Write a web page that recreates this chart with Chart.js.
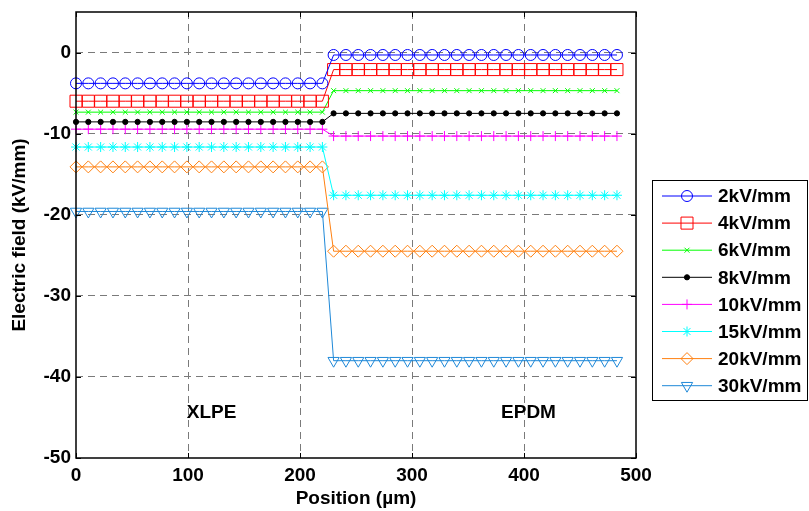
<!DOCTYPE html>
<html><head><meta charset="utf-8">
<script src="https://cdn.jsdelivr.net/npm/chart.js@4"></script>
<style>html,body{margin:0;padding:0;background:#fff}#wrap{width:809px;height:511px}</style>
</head><body><div id="wrap"><canvas id="c" width="809" height="511"></canvas></div>
<script>
// ---- data ----
const positions = [
  0,11,22,33,44,55,66, 77,88,99,110,121,132,143, 154,165,176,187,198,209,220,
  230,241,252,263,274,285, 296,307,318,329,340,351, 362,373,384,395,406,417, 428,439,450,461,472,483
];
const seriesLabels = ['2kV/mm','4kV/mm','6kV/mm','8kV/mm','10kV/mm','15kV/mm','20kV/mm','30kV/mm'];
const field2kV = [
  -3.8,-3.8,-3.8,-3.8,-3.8,-3.8,-3.8, -3.8,-3.8,-3.8,-3.8,-3.8,-3.8,-3.8, -3.8,-3.8,-3.8,-3.8,-3.8,-3.8,-3.8,
  -0.3,-0.3,-0.3,-0.3,-0.3,-0.3, -0.3,-0.3,-0.3,-0.3,-0.3,-0.3, -0.3,-0.3,-0.3,-0.3,-0.3,-0.3, -0.3,-0.3,-0.3,-0.3,-0.3,-0.3
];
const field4kV = [
  -6.0,-6.0,-6.0,-6.0,-6.0,-6.0,-6.0, -6.0,-6.0,-6.0,-6.0,-6.0,-6.0,-6.0, -6.0,-6.0,-6.0,-6.0,-6.0,-6.0,-6.0,
  -2.1,-2.1,-2.1,-2.1,-2.1,-2.1, -2.1,-2.1,-2.1,-2.1,-2.1,-2.1, -2.1,-2.1,-2.1,-2.1,-2.1,-2.1, -2.1,-2.1,-2.1,-2.1,-2.1,-2.1
];
const field6kV = [
  -7.35,-7.35,-7.35,-7.35,-7.35,-7.35,-7.35, -7.35,-7.35,-7.35,-7.35,-7.35,-7.35,-7.35, -7.35,-7.35,-7.35,-7.35,-7.35,-7.35,-7.35,
  -4.7,-4.7,-4.7,-4.7,-4.7,-4.7, -4.7,-4.7,-4.7,-4.7,-4.7,-4.7, -4.7,-4.7,-4.7,-4.7,-4.7,-4.7, -4.7,-4.7,-4.7,-4.7,-4.7,-4.7
];
const field8kV = [
  -8.55,-8.55,-8.55,-8.55,-8.55,-8.55,-8.55, -8.55,-8.55,-8.55,-8.55,-8.55,-8.55,-8.55, -8.55,-8.55,-8.55,-8.55,-8.55,-8.55,-8.55,
  -7.5,-7.5,-7.5,-7.5,-7.5,-7.5, -7.5,-7.5,-7.5,-7.5,-7.5,-7.5, -7.5,-7.5,-7.5,-7.5,-7.5,-7.5, -7.5,-7.5,-7.5,-7.5,-7.5,-7.5
];
const field10kV = [
  -9.45,-9.45,-9.45,-9.45,-9.45,-9.45,-9.45, -9.45,-9.45,-9.45,-9.45,-9.45,-9.45,-9.45, -9.45,-9.45,-9.45,-9.45,-9.45,-9.45,-9.45,
  -10.3,-10.3,-10.3,-10.3,-10.3,-10.3, -10.3,-10.3,-10.3,-10.3,-10.3,-10.3, -10.3,-10.3,-10.3,-10.3,-10.3,-10.3, -10.3,-10.3,-10.3,-10.3,-10.3,-10.3
];
const field15kV = [
  -11.65,-11.65,-11.65,-11.65,-11.65,-11.65,-11.65, -11.65,-11.65,-11.65,-11.65,-11.65,-11.65,-11.65, -11.65,-11.65,-11.65,-11.65,-11.65,-11.65,-11.65,
  -17.6,-17.6,-17.6,-17.6,-17.6,-17.6, -17.6,-17.6,-17.6,-17.6,-17.6,-17.6, -17.6,-17.6,-17.6,-17.6,-17.6,-17.6, -17.6,-17.6,-17.6,-17.6,-17.6,-17.6
];
const field20kV = [
  -14.1,-14.1,-14.1,-14.1,-14.1,-14.1,-14.1, -14.1,-14.1,-14.1,-14.1,-14.1,-14.1,-14.1, -14.1,-14.1,-14.1,-14.1,-14.1,-14.1,-14.1,
  -24.5,-24.5,-24.5,-24.5,-24.5,-24.5, -24.5,-24.5,-24.5,-24.5,-24.5,-24.5, -24.5,-24.5,-24.5,-24.5,-24.5,-24.5, -24.5,-24.5,-24.5,-24.5,-24.5,-24.5
];
const field30kV = [
  -19.6,-19.6,-19.6,-19.6,-19.6,-19.6,-19.6, -19.6,-19.6,-19.6,-19.6,-19.6,-19.6,-19.6, -19.6,-19.6,-19.6,-19.6,-19.6,-19.6,-19.6,
  -38.0,-38.0,-38.0,-38.0,-38.0,-38.0, -38.0,-38.0,-38.0,-38.0,-38.0,-38.0, -38.0,-38.0,-38.0,-38.0,-38.0,-38.0, -38.0,-38.0,-38.0,-38.0,-38.0,-38.0
];
const xTicks = [0,100,200,300,400,500];
const yTicks = [-50,-40,-30,-20,-10,0];
const layerLabels = ['XLPE','EPDM'];
const layerLabelX = [121, 404];
const layerLabelY = [-44.4, -44.4];

// ---- styles ----
const allFields = [field2kV, field4kV, field6kV, field8kV, field10kV, field15kV, field20kV, field30kV];
const colors = ['#0000ff','#ff0000','#00ff00','#000000','#ff00ff','#00ffff','#ff8010','#1e88d8'];
const pStyles = ['circle','rect','crossRot','circle','cross','star','rectRot','triangle'];
const pRadius = [5.5, 8.5, 3.5, 2.6, 5, 5, 6, 6.5];
const pRot = [0,0,0,0,0,0,0,180];
const pFill = ['rgba(0,0,0,0)','rgba(0,0,0,0)','rgba(0,0,0,0)','#000000','rgba(0,0,0,0)','rgba(0,0,0,0)','rgba(0,0,0,0)','rgba(0,0,0,0)'];
const FONT = "'Liberation Sans', Arial, Helvetica, sans-serif";

Chart.defaults.font.family = FONT;
Chart.defaults.color = '#000';

const datasets = allFields.map((arr, k) => ({
  label: seriesLabels[k],
  data: positions.map((x, i) => ({x: x, y: arr[i]})),
  borderColor: colors[k],
  backgroundColor: colors[k],
  borderWidth: 1,
  pointStyle: pStyles[k],
  pointRadius: pRadius[k],
  pointRotation: pRot[k],
  pointBorderColor: colors[k],
  pointBackgroundColor: pFill[k],
  pointBorderWidth: 1,
  pointHoverRadius: pRadius[k],
  showLine: true,
  fill: false,
  tension: 0,
  clip: false
}));

const framePlugin = {
  id: 'frame',
  afterDatasetsDraw(chart) {
    const ctx = chart.ctx, a = chart.chartArea;
    const xs = chart.scales.x, ys = chart.scales.y;
    ctx.save();
    ctx.strokeStyle = '#000'; ctx.lineWidth = 1;
    ctx.beginPath();
    xTicks.forEach(v => {
      const px = Math.round(xs.getPixelForValue(v)) + 0.5;
      ctx.moveTo(px, a.bottom); ctx.lineTo(px, a.bottom - 5);
      ctx.moveTo(px, a.top); ctx.lineTo(px, a.top + 5);
    });
    yTicks.forEach(v => {
      const py = Math.round(ys.getPixelForValue(v)) + 0.5;
      ctx.moveTo(a.left, py); ctx.lineTo(a.left + 5, py);
      ctx.moveTo(a.right, py); ctx.lineTo(a.right - 5, py);
    });
    ctx.stroke();
    ctx.lineWidth = 1.5;
    ctx.strokeRect(a.left, a.top, a.right - a.left, a.bottom - a.top);
    ctx.fillStyle = '#000';
    ctx.font = 'bold 19px ' + FONT;
    ctx.textAlign = 'center'; ctx.textBaseline = 'middle';
    layerLabels.forEach((t, i) => {
      ctx.fillText(t, xs.getPixelForValue(layerLabelX[i]), ys.getPixelForValue(layerLabelY[i]));
    });
    ctx.restore();
  },
  afterDraw(chart) {
    const ctx = chart.ctx;
    const bx = 652.5, by = 180.5, bw = 155, bh = 220;
    ctx.save();
    ctx.fillStyle = '#fff';
    ctx.fillRect(bx, by, bw, bh);
    ctx.strokeStyle = '#000'; ctx.lineWidth = 1;
    ctx.strokeRect(bx, by, bw, bh);
    chart.data.datasets.forEach((ds, i) => {
      const y = 196 + i * 27.1;
      ctx.strokeStyle = ds.borderColor; ctx.lineWidth = 1;
      ctx.beginPath(); ctx.moveTo(662, y); ctx.lineTo(712, y); ctx.stroke();
      ctx.fillStyle = ds.pointBackgroundColor;
      ctx.strokeStyle = ds.pointBorderColor;
      Chart.helpers.drawPoint(ctx, {pointStyle: ds.pointStyle, radius: ds.pointRadius, rotation: ds.pointRotation, borderWidth: 1}, 687, y);
      ctx.fillStyle = '#000';
      ctx.font = 'bold 19px ' + FONT;
      ctx.textAlign = 'left'; ctx.textBaseline = 'middle';
      ctx.fillText(ds.label, 718, y + 1);
    });
    ctx.restore();
  }
};

const gridColor = (edgeVals) => (c) => (c.tick && edgeVals.includes(c.tick.value)) ? 'rgba(0,0,0,0)' : '#7a7a7a';

new Chart(document.getElementById('c'), {
  type: 'scatter',
  data: { datasets: datasets },
  plugins: [framePlugin],
  options: {
    responsive: false,
    animation: false,
    devicePixelRatio: 1,
    layout: { padding: { top: 12, right: 173, left: 0, bottom: 0 } },
    plugins: { legend: { display: false }, tooltip: { enabled: false } },
    scales: {
      x: {
        type: 'linear', min: 0, max: 500,
        afterBuildTicks: s => { s.ticks = xTicks.map(v => ({value: v})); },
        afterFit: s => { s.height = 53; s.paddingLeft = 0; s.paddingRight = 0; },
        ticks: { font: { size: 19, weight: 'bold' }, color: '#000', padding: 6, maxRotation: 0, autoSkip: false },
        grid: { color: gridColor([0, 500]), lineWidth: 1, drawTicks: false },
        border: { display: false, dash: [7, 5] },
        title: { display: true, text: 'Position (µm)', color: '#000', font: { size: 19, weight: 'bold', lineHeight: 1 }, padding: { top: 0, bottom: 3 } }
      },
      y: {
        type: 'linear', min: -50, max: 5,
        afterBuildTicks: s => { s.ticks = yTicks.map(v => ({value: v})); },
        afterFit: s => { s.width = 76; s.paddingTop = 0; s.paddingBottom = 0; },
        ticks: { font: { size: 19, weight: 'bold' }, color: '#000', padding: 5, autoSkip: false },
        grid: { color: gridColor([-50]), lineWidth: 1, drawTicks: false },
        border: { display: false, dash: [7, 5] },
        title: { display: true, text: 'Electric field (kV/mm)', color: '#000', font: { size: 19, weight: 'bold', lineHeight: 1 }, padding: { top: 10, bottom: 0 } }
      }
    }
  }
});
</script>
</body></html>
